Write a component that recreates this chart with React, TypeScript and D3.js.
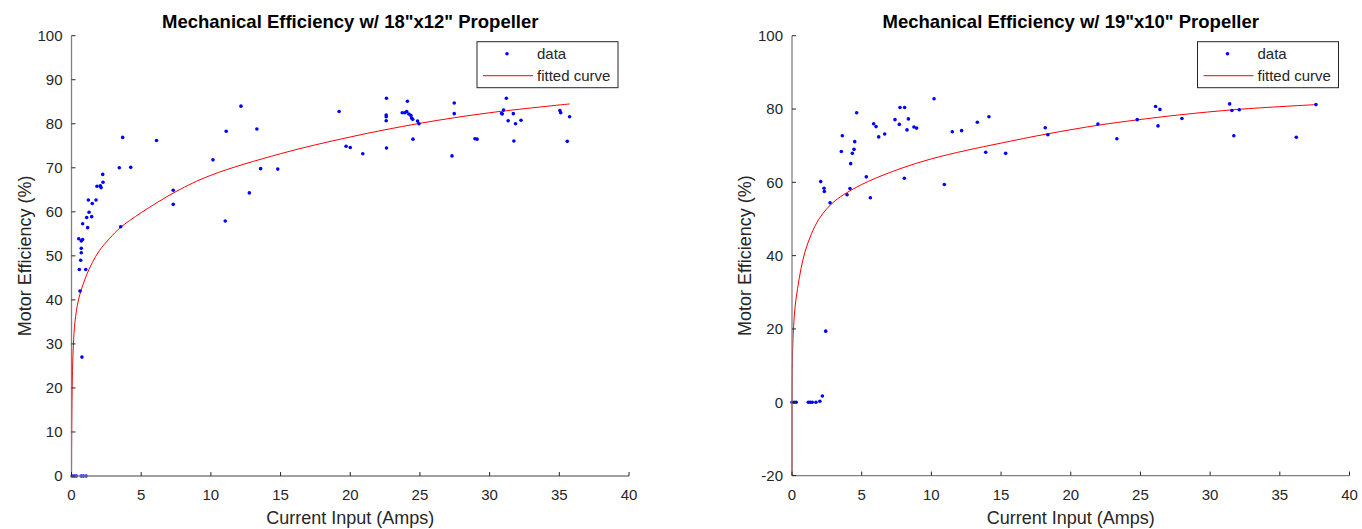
import React from "react";
import * as d3 from "d3";

// ---------- Data ----------
const leftTitle = 'Mechanical Efficiency w/ 18"x12" Propeller';
const rightTitle = 'Mechanical Efficiency w/ 19"x10" Propeller';
const xLabel = "Current Input (Amps)";
const yLabel = "Motor Efficiency (%)";
const legendLabels = ["data", "fitted curve"];

const xTicks = [0, 5, 10, 15, 20, 25, 30, 35, 40];
const leftYTicks = [0, 10, 20, 30, 40, 50, 60, 70, 80, 90, 100];
const rightYTicks = [-20, 0, 20, 40, 60, 80, 100];

const leftDataX = [
  0.05, 0.2, 0.35, 0.7, 0.85, 1.05,
  0.75, 0.61, 0.56, 1.02, 0.66, 0.7, 0.7, 0.52, 0.8, 0.7, 1.16, 0.8,
  1.09, 1.45, 1.26, 1.49, 1.76, 1.21, 1.83, 2.07, 2.12, 2.26, 2.24,
  3.53, 3.43, 4.25, 3.67, 6.1, 7.3, 7.3,
  10.15, 11.03, 11.1, 12.16, 12.76, 13.3, 13.57, 14.8,
  19.2, 19.7, 20.0, 20.9,
  22.6, 22.58, 22.58, 22.58, 22.6,
  24.1, 23.73, 23.92, 24.05, 24.2, 24.35, 24.4, 24.48, 24.83, 24.93, 24.5,
  27.46, 27.46, 27.3, 28.95, 29.1,
  31.2, 31.0, 30.86, 30.9, 31.7, 31.33, 31.86, 32.25, 31.74,
  35.04, 35.1, 35.74, 35.57,
];
const leftDataY = [
  0, 0, 0, 0, 0, 0,
  27.0, 42.0, 46.9, 46.9, 49.0, 50.7, 51.7, 53.9, 53.7, 53.4, 56.4, 57.3,
  58.7, 58.9, 59.9, 61.9, 62.7, 62.7, 65.8, 65.9, 65.5, 66.7, 68.5,
  56.6, 70.0, 70.1, 76.9, 76.2, 64.9, 61.7,
  71.8, 57.9, 78.3, 84.0, 64.3, 78.8, 69.8, 69.7,
  82.8, 74.9, 74.6, 73.2,
  85.8, 82.0, 81.6, 80.7, 74.5,
  85.1, 82.5, 82.5, 82.8, 82.2, 81.9, 81.3, 81.0, 80.6, 80.0, 76.5,
  84.7, 82.3, 72.7, 76.6, 76.5,
  85.8, 83.1, 82.4, 82.2, 82.3, 80.7, 80.0, 80.8, 76.1,
  83.0, 82.5, 81.6, 76.0,
];
const leftFitX = [0, 0.02, 0.06, 0.13, 0.25, 0.5, 1, 1.5, 2, 2.75, 3.5, 5, 7.5, 10, 15, 20, 25, 30, 35.74];
const leftFitY = [0, 12, 22, 29.5, 35, 40, 45, 48.5, 51.2, 54, 56.4, 59.8, 64.6, 68.3, 73.2, 77.0, 80.1, 82.5, 84.5];

const rightDataX = [
  0, 0.15, 0.3, 1.17, 1.3, 1.45, 1.72, 2.0, 2.18,
  2.42, 2.06, 2.3, 2.32, 2.73,
  3.95, 4.16, 4.21, 4.33, 4.45, 4.5, 3.54, 3.61, 4.64,
  5.33, 5.62, 5.86, 6.03, 6.22, 6.65,
  7.39, 7.7, 7.75, 8.08, 8.25, 8.35, 8.06, 8.75, 8.94,
  10.19, 10.93, 11.5, 12.17, 13.3, 13.9, 14.13, 15.33,
  18.17, 18.36, 21.95, 23.31, 24.77, 26.09, 26.4, 26.26, 27.98,
  31.4, 31.56, 32.09, 31.7, 36.18, 37.59,
];
const rightDataY = [
  0, 0, 0, 0, 0, 0, 0, 0.3, 1.7,
  19.4, 60.2, 58.4, 57.5, 54.4,
  56.6, 58.3, 65.1, 67.9, 69.0, 71.1, 68.4, 72.7, 79.0,
  61.5, 55.8, 76.0, 75.2, 72.4, 73.2,
  77.1, 75.8, 80.4, 80.4, 74.3, 77.3, 61.1, 75.1, 74.8,
  82.8, 59.4, 73.8, 74.1, 76.4, 68.2, 77.9, 67.9,
  74.9, 73.0, 75.9, 71.9, 77.1, 80.7, 79.9, 75.4, 77.4,
  81.4, 79.6, 79.8, 72.7, 72.3, 81.2,
];
const rightFitX = [0, 0.005, 0.02, 0.06, 0.12, 0.22, 0.4, 0.65, 0.93, 1.4, 1.9, 2.5, 3.1, 3.9, 5.5, 7.9, 10, 12.5, 15, 18.3, 22, 24.7, 27.8, 32, 37.59];
const rightFitY = [-20, 0, 9, 16, 21, 26, 31, 36.5, 41, 46, 49.8, 52.8, 55, 57.1, 60.3, 63.9, 66.4, 68.7, 70.7, 73.2, 75.6, 77.0, 78.4, 79.9, 81.2];

// ---------- Styling ----------
const FONT = "'Liberation Sans', Arial, Helvetica, sans-serif";
const AXIS_COLOR = "#808080";
const TEXT_COLOR = "#262626";
const DOT_COLOR = "#0000ff";
const LINE_COLOR = "#ff0000";

type PanelProps = {
  left: number;
  right: number;
  top: number;
  bottom: number;
  yDomain: [number, number];
  yTicks: number[];
  title: string;
  dataX: number[];
  dataY: number[];
  fitX: number[];
  fitY: number[];
};

function Panel(p: PanelProps) {
  const x = d3.scaleLinear().domain([0, 40]).range([p.left, p.right]);
  const y = d3.scaleLinear().domain(p.yDomain).range([p.bottom, p.top]);
  const fitPts: [number, number][] = p.fitX.map((v, i) => [v, p.fitY[i]]);
  const line = d3
    .line<[number, number]>()
    .x((d) => x(d[0]))
    .y((d) => y(d[1]))
    .curve(d3.curveCatmullRom.alpha(0.5));
  const cx = (p.left + p.right) / 2;
  const cy = (p.top + p.bottom) / 2;
  const legR = p.right - 11;
  const legL = legR - 141;
  const legT = p.top + 6;
  const legB = legT + 46;

  return (
    <g fontFamily={FONT}>
      {/* fitted curve */}
      <path d={line(fitPts) || ""} fill="none" stroke={LINE_COLOR} strokeWidth={1} />
      {/* data */}
      {p.dataX.map((v, i) => (
        <circle key={i} cx={x(v)} cy={y(p.dataY[i])} r={1.8} fill={DOT_COLOR} />
      ))}
      {/* axes */}
      <line x1={p.left} x2={p.left} y1={p.top} y2={p.bottom} stroke={AXIS_COLOR} strokeWidth={1.3} />
      <line x1={p.left} x2={p.right} y1={p.bottom} y2={p.bottom} stroke={AXIS_COLOR} strokeWidth={1.3} />
      {p.yTicks.map((t) => (
        <g key={"y" + t}>
          <line x1={p.left} x2={p.left + 4} y1={y(t)} y2={y(t)} stroke={TEXT_COLOR} strokeWidth={1} />
          <text x={p.left - 9} y={y(t)} dy="0.35em" textAnchor="end" fontSize={15} fill={TEXT_COLOR}>
            {t}
          </text>
        </g>
      ))}
      {xTicks.map((t) => (
        <g key={"x" + t}>
          <line x1={x(t)} x2={x(t)} y1={p.bottom} y2={p.bottom - 4} stroke={TEXT_COLOR} strokeWidth={1} />
          <text x={x(t)} y={p.bottom + 24} textAnchor="middle" fontSize={15} fill={TEXT_COLOR}>
            {t}
          </text>
        </g>
      ))}
      {/* labels */}
      <text x={cx} y={p.bottom + 48} textAnchor="middle" fontSize={18} fill={TEXT_COLOR}>
        {xLabel}
      </text>
      <text
        transform={`translate(${p.left - 41},${cy}) rotate(-90)`}
        textAnchor="middle"
        fontSize={18}
        fill={TEXT_COLOR}
      >
        {yLabel}
      </text>
      <text x={cx} y={28} textAnchor="middle" fontSize={18.5} fontWeight="bold" fill="#000">
        {p.title}
      </text>
      {/* legend */}
      <rect x={legL} y={legT} width={legR - legL} height={legB - legT} fill="#fff" stroke={TEXT_COLOR} strokeWidth={1} />
      <circle cx={legL + 30} cy={legT + 12} r={1.8} fill={DOT_COLOR} />
      <text x={legL + 60} y={legT + 12} dy="0.35em" fontSize={15} fill={TEXT_COLOR}>
        {legendLabels[0]}
      </text>
      <line x1={legL + 6} x2={legL + 56} y1={legT + 34} y2={legT + 34} stroke={LINE_COLOR} strokeWidth={1} />
      <text x={legL + 60} y={legT + 34} dy="0.35em" fontSize={15} fill={TEXT_COLOR}>
        {legendLabels[1]}
      </text>
    </g>
  );
}

export default function App() {
  return (
    <svg
      width={1362}
      height={529}
      style={{ position: "absolute", left: 0, top: 0, background: "#fff" }}
    >
      <rect width={1362} height={529} fill="#fff" />
      <Panel
        left={71.5}
        right={629}
        top={35.7}
        bottom={476}
        yDomain={[0, 100]}
        yTicks={leftYTicks}
        title={leftTitle}
        dataX={leftDataX}
        dataY={leftDataY}
        fitX={leftFitX}
        fitY={leftFitY}
      />
      <Panel
        left={792}
        right={1349.5}
        top={35.7}
        bottom={475.6}
        yDomain={[-20, 100]}
        yTicks={rightYTicks}
        title={rightTitle}
        dataX={rightDataX}
        dataY={rightDataY}
        fitX={rightFitX}
        fitY={rightFitY}
      />
    </svg>
  );
}
